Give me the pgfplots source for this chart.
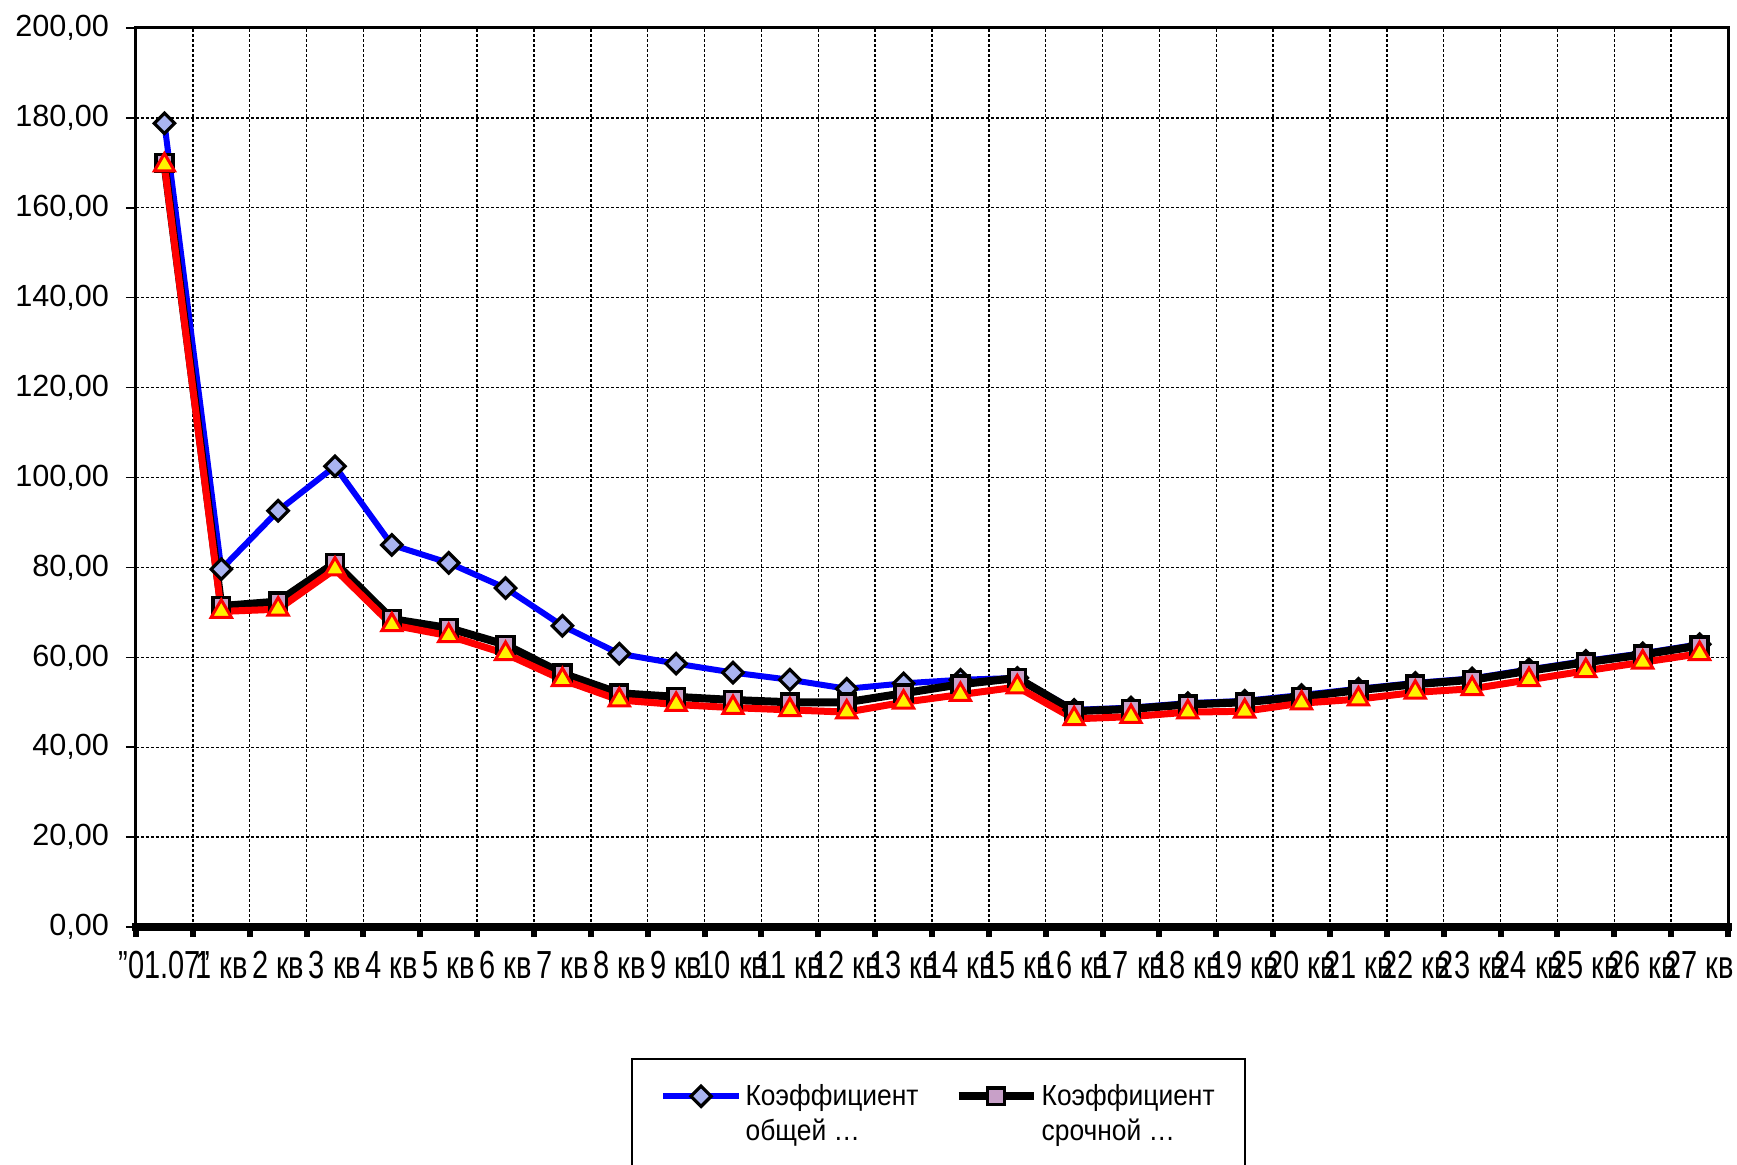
\documentclass[border=0pt]{standalone}
\usepackage{fontspec}
\setmainfont{Liberation Sans}
\usepackage{graphicx}
\usepackage{pgfplots}
\pgfplotsset{compat=1.18}
\definecolor{dfill}{RGB}{170,180,240}
\definecolor{sfill}{RGB}{200,160,200}
\newcommand\kl[1]{\scalebox{1}[1.35]{#1}}
\newcommand\lgt[1]{\scalebox{1}[1.1]{#1}}
\begin{document}
\begin{tikzpicture}
\begin{axis}[
  at={(68pt,118.5pt)}, anchor=south west,
  width=796pt, height=449.5pt, scale only axis,
  xmin=-0.5, xmax=27.5, ymin=0, ymax=200,
  xtick={0,...,27},
  xticklabels={\kl{\symbol{34}01.07\symbol{34}},\kl{1 кв},\kl{2 кв},\kl{3 кв},\kl{4 кв},\kl{5 кв},\kl{6 кв},\kl{7 кв},\kl{8 кв},\kl{9 кв},\kl{10 кв},\kl{11 кв},\kl{12 кв},\kl{13 кв},\kl{14 кв},\kl{15 кв},\kl{16 кв},\kl{17 кв},\kl{18 кв},\kl{19 кв},\kl{20 кв},\kl{21 кв},\kl{22 кв},\kl{23 кв},\kl{24 кв},\kl{25 кв},\kl{26 кв},\kl{27 кв}},
  major x tick style={draw=none},
  minor xtick={-0.5,0.5,...,27.5},
  xminorgrids=true, ymajorgrids=true,
  minor grid style={black, line width=0.7pt, dash pattern=on 1.5pt off 1pt},
  major grid style={black, line width=0.7pt, dash pattern=on 1.5pt off 1pt},
  ytick={0,20,...,200},
  tick align=outside, xtick pos=lower, ytick pos=left,
  minor tick length=5pt, major tick length=5pt,
  minor x tick style={line width=3pt, black},
  major y tick style={line width=0.8pt, black},
  axis line style={line width=1.5pt},
  /pgf/number format/assume math mode=true,
  yticklabel style={font=\fontsize{15.3pt}{18pt}\selectfont, xshift=-5pt,
    /pgf/number format/fixed, /pgf/number format/fixed zerofill,
    /pgf/number format/precision=2, /pgf/number format/use comma},
  xticklabel style={font=\fontsize{14.5pt}{17pt}\selectfont, yshift=-3.5pt},
  legend columns=2,
  legend style={at={(axis description cs:0.3116,-0.1395)}, anchor=north west,
    draw=none, fill=none, inner xsep=14pt, inner ysep=12pt,
    font=\fontsize{13.2pt}{17.7pt}\selectfont,
    /tikz/every even column/.append style={column sep=16pt}},
  legend cell align=left,
  legend image code/.code={\draw[yshift=-0.8pt, mark repeat=2, mark phase=2] plot coordinates {(0cm,0cm) (0.66cm,0cm) (1.32cm,0cm)};},
  after end axis/.code={\draw[line width=4pt, line cap=rect] (rel axis cs:0,0) -- (rel axis cs:1,0);},
]
\addplot[blue, line width=3pt, mark=square*, mark size=3.6pt,
  mark options={solid, rotate=45, fill=dfill, draw=black, line width=1.6pt}]
  coordinates {(0,178.8) (1,79.6) (2,92.6) (3,102.5) (4,85) (5,81) (6,75.4) (7,67) (8,60.8) (9,58.6) (10,56.6) (11,55) (12,53) (13,54.2) (14,55) (15,55.4) (16,48.3) (17,48.8) (18,49.8) (19,50.3) (20,51.6) (21,53) (22,54.3) (23,55.3) (24,57.3) (25,59.2) (26,60.9) (27,62.9)};
\addlegendentry{\begin{tabular}[t]{@{}l@{}}\lgt{Коэффициент}\\\lgt{общей …}\end{tabular}}
\addplot[black, line width=4pt, mark=square*, mark size=4.2pt,
  mark options={solid, fill=sfill, draw=black, line width=1.8pt}]
  coordinates {(0,170) (1,71.4) (2,72.4) (3,81) (4,68.5) (5,66.5) (6,62.8) (7,56.4) (8,52) (9,51.2) (10,50.5) (11,50) (12,50) (13,52) (14,54) (15,55.4) (16,48) (17,48.5) (18,49.5) (19,50) (20,51.2) (21,52.7) (22,54) (23,55) (24,57) (25,58.9) (26,60.6) (27,62.6)};
\addlegendentry{\begin{tabular}[t]{@{}l@{}}\lgt{Коэффициент}\\\lgt{срочной …}\end{tabular}}
\addplot[red, line width=3.5pt, mark=triangle*, mark size=5.8pt,
  mark options={solid, fill=yellow, draw=red, line width=1.5pt}]
  coordinates {(0,169.5) (1,70.2) (2,70.7) (3,79.6) (4,67.2) (5,64.8) (6,60.8) (7,55) (8,50.5) (9,49.5) (10,48.8) (11,48.3) (12,47.8) (13,50) (14,51.7) (15,53.4) (16,46.3) (17,46.8) (18,47.8) (19,48) (20,49.8) (21,50.7) (22,52.2) (23,53) (24,55) (25,57) (26,58.9) (27,60.8)};
\end{axis}
\draw[line width=1pt] (316pt,-20pt) -- (316pt,52.5pt) -- (622.5pt,52.5pt) -- (622.5pt,-20pt);
\pgfresetboundingbox
\useasboundingbox (0,0) rectangle (868.5pt,582pt);
\end{tikzpicture}
\end{document}
